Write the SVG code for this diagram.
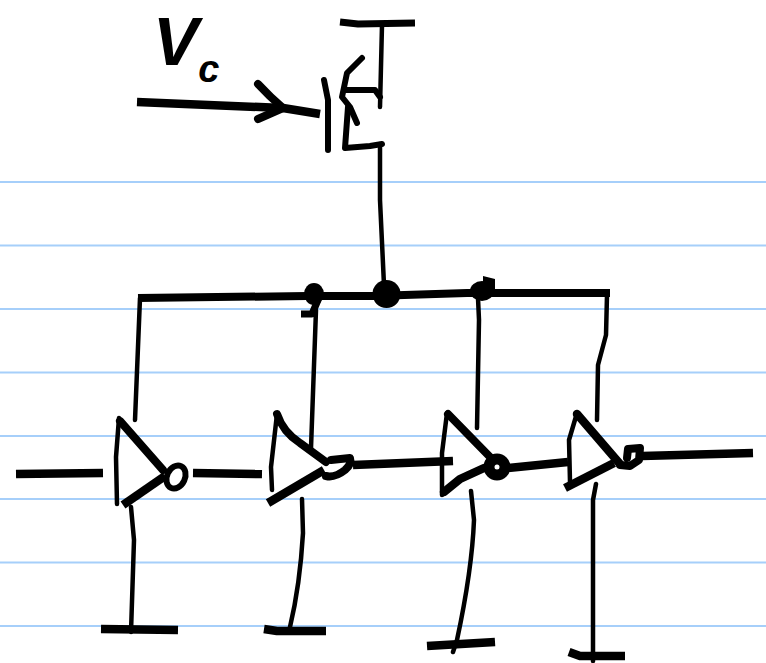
<svg xmlns="http://www.w3.org/2000/svg" width="766" height="663" viewBox="0 0 766 663">
<style>
.rule{stroke:#a6cffa;stroke-width:2;fill:none}
.s{fill:none;stroke:#000;stroke-linecap:round;stroke-linejoin:round}
.w4{stroke-width:4.500}.w5{stroke-width:6}.w6{stroke-width:7}.w7{stroke-width:8}.w8{stroke-width:8.500}
.b{stroke-linecap:butt}
.t{font-family:"Liberation Sans",Arial,sans-serif;font-style:italic;fill:#000}
</style>
<rect width="766" height="663" fill="#fff"/>
<g id="rules">
<path class="rule" d="M0 182H766M0 245.500H766M0 309H766M0 372.500H766M0 436H766M0 499H766M0 562.500H766M0 626H766"/>
</g>
<g id="connectors">
<path class="s w4" d="M380 144L380 200L384 285"/>
<path class="s w7 b" d="M138 298L307 296L373 296L467 293L610 293"/>
<path class="s w4" d="M140 298L135 420"/>
<path class="s w4" d="M316 310L311 448"/>
<path class="s w4" d="M478 298L479 320L477 428"/>
<path class="s w4" d="M607 295L606 335L598 365L597 420"/>
<path class="s w8 b" d="M16 474L103 473"/>
<path class="s w8 b" d="M193 473L262 474"/>
<path class="s w8 b" d="M353 465L453 461"/>
<path class="s w8 b" d="M508 468L568 462"/>
<path class="s w8 b" d="M642 456L753 453"/>
<path class="s w4" d="M131 507L134 540L131 632"/>
<path class="s w4" d="M302 499L303 533Q300 585 290 627"/>
<path class="s w4" d="M471 491L474 520Q472 570 457 640L453 652"/>
<path class="s w4" d="M596 484L593 500L593 661"/>
</g>
<g id="label-vc">
<text class="t" x="153" y="65" font-size="68" font-weight="700">V<tspan font-size="38" y="82">c</tspan></text>
</g>
<g id="input-arrow">
<path class="s w8 b" d="M137 102L283 108L320 114"/>
<path class="s w7" d="M258 84Q270 97 283 108L258 119"/>
</g>
<g id="transistor">
<path class="s w5" d="M324 80L328 100L328 150"/>
<path class="s w5" d="M362 58L347 73L342 97L350 107L357 123"/>
<path class="s w5" d="M345 90L375 90L380 97"/>
<path class="s w4" d="M382 25L380 107"/>
<path class="s w6 b" d="M340 22L358 24L415 23"/>
<path class="s w5" d="M348 107L345 148L370 146L382 144"/>
</g>
<g id="junction-1"><ellipse cx="314" cy="294" rx="10" ry="11"/><path class="s w6 b" d="M318 300L312 314L301 314"/></g>
<g id="junction-2"><circle cx="386.500" cy="294" r="14"/></g>
<g id="junction-3"><ellipse cx="482" cy="291" rx="12" ry="10"/><path d="M483 276L495 279L495 289L483 290Z"/></g>
<g id="inverter-1">
<path class="s w4" d="M119 418L116 457L117 504"/>
<path class="s w7" d="M120 421L163 470"/>
<path class="s w8 b" d="M123 505L165 476"/>
<ellipse class="s w5" cx="176" cy="477" rx="9" ry="12" transform="rotate(25 176 477)"/>
</g>
<g id="inverter-2">
<path class="s w4" d="M277 414L271 467L272 490"/>
<path class="s w7" d="M277 414Q283 432 300 443L326 462"/>
<path class="s w8 b" d="M268 503L324 470"/>
<path class="s w7" d="M331 460L350 458Q352 464 345 470Q335 478 326 476"/>
</g>
<g id="inverter-3">
<path class="s w4" d="M447 413L442 453L442 495"/>
<path class="s w7" d="M448 414L492 459"/>
<path class="s w8" d="M444 492L460 479L484 468"/>
<circle class="s" stroke-width="11" cx="497" cy="467" r="8"/>
</g>
<g id="inverter-4">
<path class="s w4" d="M577 413L569 440L570 482"/>
<path class="s w8" d="M577 414L620 464"/>
<path class="s w8 b" d="M565 488L614 463"/>
<path class="s w7" d="M627 458L628 449L640 448L639 460L630 466L620 465"/>
</g>
<g id="ground-1"><path class="s w8 b" d="M101 629L178 630"/></g>
<g id="ground-2"><path class="s w8 b" d="M264 629L277 631L326 631"/></g>
<g id="ground-3"><path class="s w8 b" d="M427 646L495 642"/></g>
<g id="ground-4"><path class="s w8 b" d="M569 652L580 656L625 656"/></g>
</svg>
